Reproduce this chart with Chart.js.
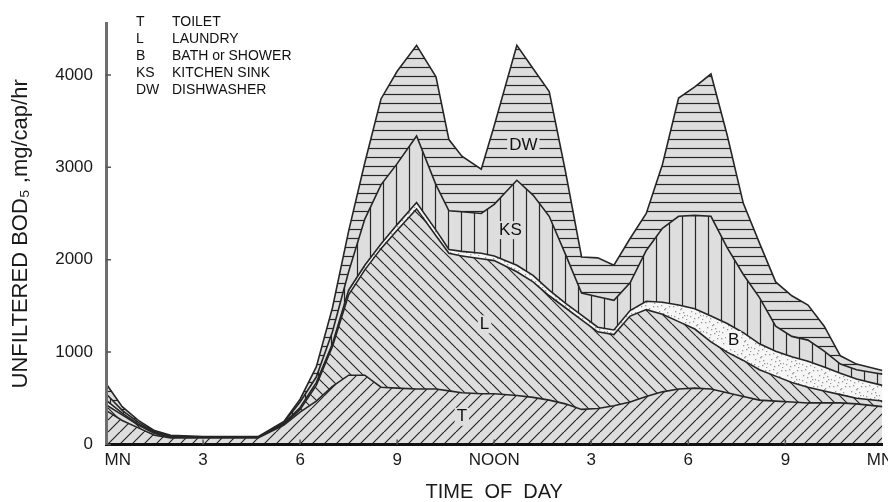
<!DOCTYPE html>
<html lang="en">
  <head>
    <meta charset="UTF-8" />
    <title>Unfiltered BOD5 by fixture</title>
    <script src="https://cdn.jsdelivr.net/npm/chart.js"></script>
    <style>
      html,
      body {
        margin: 0;
        background: #fff;
        overflow: hidden;
      }

      .wrap {
        width: 904px;
        height: 502px;
      }
    </style>
  </head>
  <body>
    <div class="wrap">
      <canvas id="bodChart"></canvas>
    </div>

    <script>
      // hour of day for each point (0 = midnight)
      const hours = [
        0, 0.5, 1, 1.5, 2, 3, 4, 4.7, 5.5, 6, 6.5, 7, 7.5, 8, 8.5, 9, 9.6,
        10.2, 10.6, 11, 11.6, 12, 12.7, 13.2, 13.7, 14.2, 14.7, 15.2, 15.7,
        16.2, 16.7, 17.2, 17.7, 18.2, 18.7, 19.2, 19.7, 20.2, 20.7, 21.2, 21.7,
        22.2, 22.7, 23.2, 24,
      ];

      // mg/cap/hr per fixture, stacked bottom to top
      const toilet = [
        370, 260, 180, 100, 70, 70, 70, 70, 210, 350, 470, 630, 750, 750, 620,
        610, 600, 600, 580, 560, 550, 550, 530, 510, 480, 440, 380, 390, 420,
        460, 520, 570, 600, 610, 600, 560, 520, 480, 470, 460, 450, 450, 450,
        440, 410,
      ];
      const laundry = [
        60, 60, 30, 20, 10, 5, 5, 5, 10, 30, 170, 430, 870, 1140, 1500, 1710,
        1950, 1660, 1490, 1480, 1460, 1440, 1340, 1250, 1130, 1040, 970, 830,
        770, 930, 940, 840, 730, 640, 510, 440, 390, 330, 270, 210, 170, 130,
        90, 60, 60,
      ];
      const bath = [
        50, 20, 10, 10, 0, 0, 0, 0, 10, 20, 30, 30, 50, 50, 50, 60, 70, 60, 40,
        50, 60, 50, 70, 70, 60, 50, 50, 50, 50, 60, 90, 130, 180, 220, 280, 310,
        300, 280, 270, 280, 280, 260, 230, 210, 170,
      ];
      const kitchenSink = [
        70, 30, 20, 10, 10, 5, 5, 5, 10, 60, 60, 130, 200, 500, 640, 660, 720,
        490, 420, 430, 430, 560, 920, 870, 800, 530, 240, 330, 320, 300, 550,
        800, 960, 1010, 1080, 820, 630, 500, 270, 220, 230, 170, 100, 100, 120,
      ];
      const dishwasher = [
        110, 40, 20, 10, 10, 5, 5, 5, 10, 30, 110, 260, 440, 610, 930, 1000,
        980, 1170, 770, 600, 480, 850, 1460, 1370, 1350, 900, 390, 420, 380,
        480, 400, 690, 1280, 1390, 1540, 1220, 770, 590, 480, 440, 380, 270, 90,
        60, 40,
      ];

      const xTickLabels = ["     MN", "3", "6", "9", "NOON", "3", "6", "9", "MN "];
      const yTicks = [0, 1000, 2000, 3000, 4000];

      const legendCodes = ["T", "L", "B", "KS", "DW"];
      const legendNames = [
        "TOILET",
        "LAUNDRY",
        "BATH or SHOWER",
        "KITCHEN SINK",
        "DISHWASHER",
      ];

      // in-area labels (hour, value)
      const areaLabels = ["DW", "KS", "L", "B", "T"];
      const areaLabelHours = [12.9, 12.5, 11.7, 19.4, 11.0];
      const areaLabelValues = [3240, 2320, 1300, 1130, 300];

      const FONT = '"Liberation Sans", Arial, sans-serif';
      const HATCH_BG = "#dedede";
      const INK = "#262626";

      // fill patterns
      function hatch(kind) {
        const c = document.createElement("canvas");
        const g = c.getContext("2d");
        let w = 12,
          h = 12;
        if (kind === "v") w = 13;
        if (kind === "h") h = 9;
        if (kind === "dots") w = h = 16;
        c.width = w;
        c.height = h;
        g.fillStyle = kind === "dots" ? "#f6f6f6" : HATCH_BG;
        g.fillRect(0, 0, w, h);
        g.strokeStyle = INK;
        g.lineWidth = 1.2;
        g.beginPath();
        if (kind === "/") {
          for (const o of [-w, 0, w]) {
            g.moveTo(o, h);
            g.lineTo(o + w, 0);
          }
        } else if (kind === "\\") {
          for (const o of [-w, 0, w]) {
            g.moveTo(o, 0);
            g.lineTo(o + w, h);
          }
        } else if (kind === "v") {
          g.moveTo(6.5, 0);
          g.lineTo(6.5, h);
        } else if (kind === "h") {
          g.moveTo(0, 4.5);
          g.lineTo(w, 4.5);
        }
        g.stroke();
        if (kind === "dots") {
          g.fillStyle = "#9a9a9a";
          const pts = [
            [1, 2], [5, 1], [9, 4], [13, 2], [3, 7], [7, 9], [11, 8],
            [15, 11], [2, 12], [6, 14], [10, 13], [14, 15], [8, 5], [12, 11],
          ];
          pts.forEach(([x, y]) => g.fillRect(x, y, 1.3, 1.3));
        }
        return document
          .createElement("canvas")
          .getContext("2d")
          .createPattern(c, "repeat");
      }

      const series = [
        { label: "T", data: toilet, fill: "origin", bg: hatch("/") },
        { label: "L", data: laundry, fill: "-1", bg: hatch("\\") },
        { label: "B", data: bath, fill: "-1", bg: hatch("dots") },
        { label: "KS", data: kitchenSink, fill: "-1", bg: hatch("v") },
        { label: "DW", data: dishwasher, fill: "-1", bg: hatch("h") },
      ];

      const decorations = {
        id: "decorations",
        afterDraw(chart) {
          const { ctx, scales } = chart;
          const x = scales.x,
            y = scales.y;
          ctx.save();

          // small inside tick marks
          ctx.strokeStyle = "#555";
          ctx.lineWidth = 1.5;
          ctx.beginPath();
          yTicks.forEach((v) => {
            const py = y.getPixelForValue(v);
            ctx.moveTo(x.left, py);
            ctx.lineTo(x.left + 5, py);
          });
          for (let hr = 3; hr <= 21; hr += 3) {
            const px = x.getPixelForValue(hr);
            ctx.moveTo(px, y.bottom);
            ctx.lineTo(px, y.bottom - 5);
          }
          ctx.stroke();

          // area labels
          ctx.font = "17px " + FONT;
          ctx.textAlign = "center";
          ctx.textBaseline = "middle";
          areaLabels.forEach((t, i) => {
            const px = x.getPixelForValue(areaLabelHours[i]);
            const py = y.getPixelForValue(areaLabelValues[i]);
            const w = ctx.measureText(t).width + 4;
            ctx.fillStyle = t === "B" ? "#f6f6f6" : HATCH_BG;
            ctx.fillRect(px - w / 2, py - 9, w, 18);
            ctx.fillStyle = "#111";
            ctx.fillText(t, px, py);
          });

          // key in the top left
          ctx.font = "14px " + FONT;
          ctx.textAlign = "left";
          ctx.fillStyle = "#111";
          legendCodes.forEach((code, i) => {
            const py = 22 + i * 17;
            ctx.fillText(code, 136, py);
            ctx.fillText(legendNames[i], 172, py);
          });
          ctx.restore();
        },
      };

      new Chart(document.getElementById("bodChart").getContext("2d"), {
        type: "line",
        data: {
          datasets: series.map((s) => ({
            label: s.label,
            data: hours.map((h, i) => ({ x: h, y: s.data[i] })),
            fill: s.fill,
            backgroundColor: s.bg,
            borderColor: INK,
            borderWidth: 1.6,
            pointRadius: 0,
            tension: 0,
          })),
        },
        options: {
          responsive: true,
          maintainAspectRatio: false,
          animation: false,
          layout: { padding: { top: 15, right: 18, left: 0, bottom: 0 } },
          plugins: {
            legend: { display: false },
            tooltip: { enabled: false },
          },
          scales: {
            x: {
              type: "linear",
              min: 0,
              max: 24,
              afterFit: (s) => {
                s.height = 57.5;
              },
              ticks: {
                stepSize: 3,
                autoSkip: false,
                maxRotation: 0,
                padding: 6,
                color: "#1a1a1a",
                font: { family: FONT, size: 17 },
                callback: (v) => xTickLabels[Math.round(v / 3)],
              },
              grid: { drawOnChartArea: false, drawTicks: false },
              border: { color: "#111", width: 3, z: 1 },
              title: {
                display: true,
                text: "TIME  OF  DAY",
                color: "#1a1a1a",
                font: { family: FONT, size: 20, lineHeight: 1 },
                padding: { top: 0, bottom: 0 },
              },
            },
            y: {
              stacked: true,
              min: 0,
              max: 4560,
              afterFit: (s) => {
                s.width = 106;
              },
              afterBuildTicks: (s) => {
                s.ticks = yTicks.map((v) => ({ value: v }));
              },
              ticks: {
                padding: 13,
                color: "#1a1a1a",
                font: { family: FONT, size: 17 },
                callback: (v) => String(v),
              },
              grid: { drawOnChartArea: false, drawTicks: false },
              border: { color: "#6e6e6e", width: 3, z: 1 },
              title: {
                display: true,
                text: "UNFILTERED BOD\u2085 ,mg/cap/hr",
                color: "#1a1a1a",
                font: { family: FONT, size: 22 },
                padding: { top: 8, bottom: 0 },
              },
            },
          },
        },
        plugins: [decorations],
      });
    </script>
  </body>
</html>
